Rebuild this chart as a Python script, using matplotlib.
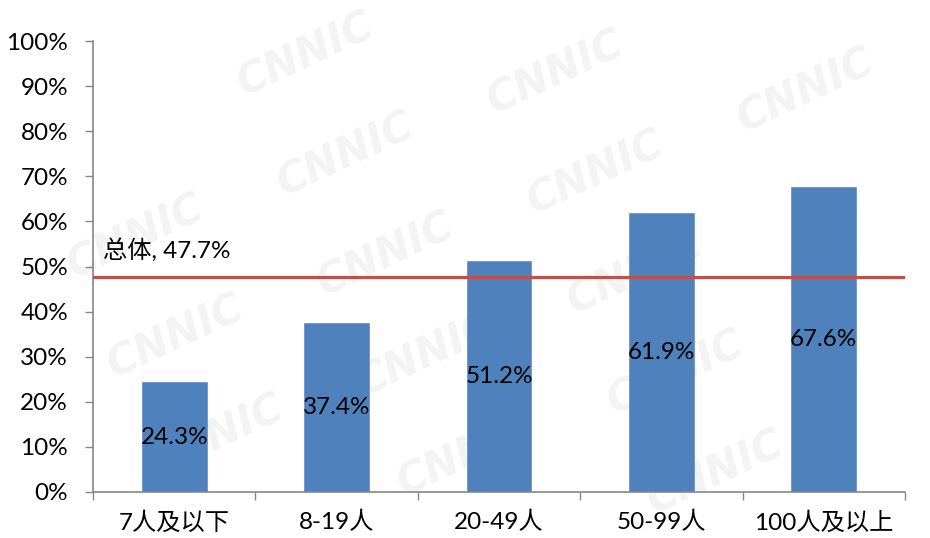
import matplotlib
matplotlib.use("Agg")
import matplotlib.pyplot as plt
from matplotlib.ticker import FixedLocator, FuncFormatter

plt.rcParams['font.family'] = ['Lato', 'Noto Sans CJK SC', 'DejaVu Sans']

categories = ['7人及以下', '8-19人', '20-49人', '50-99人', '100人及以上']
values = [24.3, 37.4, 51.2, 61.9, 67.6]
overall = 47.7
overall_label = '总体, 47.7%'
y_ticks = [0, 10, 20, 30, 40, 50, 60, 70, 80, 90, 100]

bar_color = '#4F81BD'
line_color = '#C0504D'
axis_color = '#868686'
FS = 17.5

fig = plt.figure(figsize=(9.3, 5.38), dpi=100)
fig.patch.set_facecolor('white')

# faint background watermark on its own layer behind the chart
bg = fig.add_axes([0, 0, 1, 1], zorder=-5)
bg.set_xlim(0, 930)
bg.set_ylim(538, 0)
bg.axis('off')
for j in range(-1, 6):
    for i in range(-2, 5):
        x = 305 + 250 * i + 40 * j
        y = 55 + 18 * i + 100 * j
        if 95 < x < 835 and 50 < y < 490:
            bg.text(x, y, 'CNNIC', fontsize=30, fontweight='bold', fontstyle='italic',
                    family='DejaVu Sans', color='#F3F3F3', rotation=25,
                    ha='center', va='center')

ax = fig.add_axes([93 / 930, 1 - 492 / 538, (905 - 93) / 930, (492 - 41) / 538], zorder=1)
ax.set_facecolor('none')

xs = list(range(len(categories)))
ax.bar(xs, values, width=0.4, color=bar_color, edgecolor='#6A95CC',
       linewidth=0.6, zorder=2)
for x, v in zip(xs, values):
    ax.text(x, v / 2, f'{v:.1f}%', ha='center', va='center', fontsize=FS,
            color='black', zorder=4)

ax.axhline(overall, color=line_color, linewidth=2.3, zorder=3)
ax.text(-0.44, overall + 6, overall_label, ha='left', va='center', fontsize=FS,
        color='black', zorder=4)

ax.set_xlim(-0.5, len(categories) - 0.5)
ax.set_ylim(0, 100)

ax.yaxis.set_major_locator(FixedLocator(y_ticks))
ax.yaxis.set_major_formatter(FuncFormatter(lambda v, p: f'{v:.0f}%'))
ax.tick_params(axis='y', direction='out', length=6, width=1, color=axis_color,
               labelsize=FS, pad=12, labelcolor='black')

ax.set_xticks(xs)
ax.set_xticklabels(categories)
ax.set_xticks([x - 0.5 for x in range(len(categories) + 1)], minor=True)
ax.tick_params(axis='x', which='major', length=0, labelsize=FS, pad=14,
               labelcolor='black')
ax.tick_params(axis='x', which='minor', direction='out', length=6, width=1,
               color=axis_color)

for s in ['top', 'right']:
    ax.spines[s].set_visible(False)
for s in ['left', 'bottom']:
    ax.spines[s].set_color(axis_color)
    ax.spines[s].set_linewidth(1.2)

fig.savefig('out.png', dpi=100, facecolor='white')
